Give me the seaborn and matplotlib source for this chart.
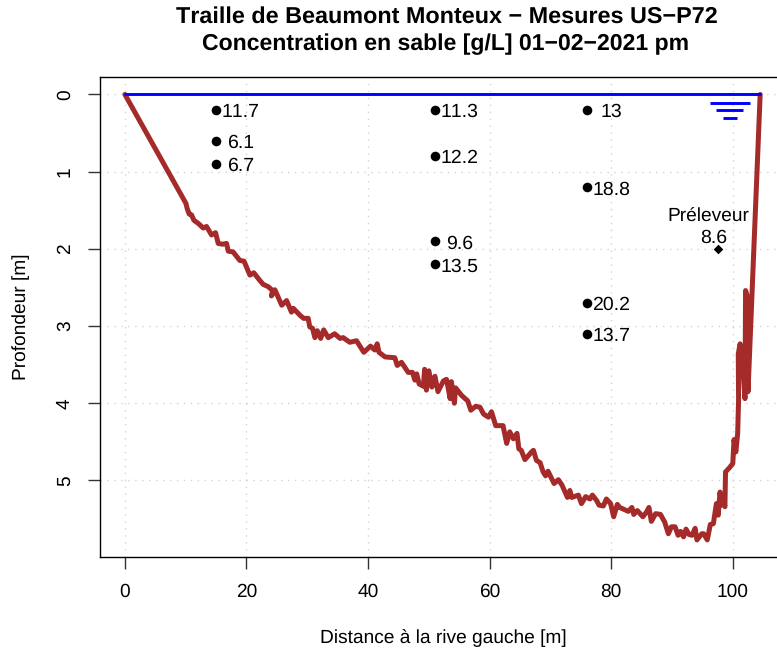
import matplotlib
matplotlib.use('Agg')
import matplotlib.pyplot as plt
import pandas as pd
import seaborn as sns

# Bed profile
bed_x = [0, 10.03, 10.25, 10.58, 10.96, 11.35, 12.06, 12.88, 13.43, 14.25, 14.91, 15.35, 16.06, 16.72, 17.0, 17.8,
         18.9, 19.6, 20.56, 21.2, 22.2, 22.75, 23.57, 24.3, 24.1, 24.67, 25.8, 26.6, 27.4, 27.7, 28.8, 29.4, 30.15,
         30.4, 30.87, 31.25, 31.64, 32.2, 32.7, 33.45, 34.5, 35.4, 35.9, 37.0, 38.1, 39.3, 40.4, 41.1, 41.5, 41.8,
         42.8, 44.4, 44.8, 45.5, 46.6, 47.3, 47.7, 48.0, 48.4, 49.1, 49.3, 49.6, 50.0, 50.5, 51.0, 51.5, 52.4, 52.9,
         53.5, 53.7, 54.2, 54.4, 55.4, 56.4, 56.9, 57.7, 58.4, 59.0, 59.8, 60.3, 61.0, 62.2, 62.8, 63.3, 63.9, 64.5,
         64.8, 65.2, 65.8, 66.9, 67.2, 67.7, 68.3, 68.8, 69.2, 69.6, 70.6, 71.3, 71.9, 72.8, 73.2, 73.5, 74.6, 75.1,
         75.8, 76.5, 76.9, 77.6, 78.0, 78.7, 79.2, 79.9, 80.4, 81.0, 81.4, 82.8, 83.4, 83.7, 84.3, 85.2, 85.8, 86.2,
         86.6, 87.3, 88.1, 88.8, 89.4, 89.9, 90.5, 91.0, 91.4, 91.9, 92.3, 92.8, 93.3, 93.8, 94.1, 94.9, 95.2, 95.8,
         96.3, 96.8, 97.3, 97.6, 97.9, 98.1, 98.3, 98.7, 98.8, 99.5, 100.0, 100.2, 100.5, 100.8, 100.95, 100.9,
         101.2, 101.5, 102.0, 102.1, 102.4, 102.5, 104.5]
bed_depth = [0, 1.41, 1.48, 1.55, 1.56, 1.63, 1.67, 1.73, 1.71, 1.82, 1.79, 1.93, 1.94, 1.93, 2.03, 2.04,
             2.15, 2.16, 2.34, 2.31, 2.41, 2.46, 2.49, 2.54, 2.61, 2.53, 2.73, 2.67, 2.82, 2.77, 2.86, 2.90, 2.90,
             3.01, 3.03, 3.15, 3.06, 3.16, 3.05, 3.15, 3.10, 3.16, 3.15, 3.21, 3.19, 3.34, 3.26, 3.31, 3.23, 3.34,
             3.40, 3.41, 3.51, 3.47, 3.60, 3.60, 3.70, 3.62, 3.75, 3.78, 3.56, 3.83, 3.58, 3.79, 3.65, 3.85, 3.71, 3.69,
             3.94, 3.72, 4.00, 3.80, 3.90, 3.97, 4.09, 4.04, 4.05, 4.14, 4.18, 4.11, 4.29, 4.29, 4.52, 4.37, 4.46, 4.39,
             4.59, 4.61, 4.73, 4.63, 4.61, 4.74, 4.77, 4.89, 4.94, 4.88, 5.04, 4.99, 5.06, 5.22, 5.13, 5.22, 5.19, 5.30,
             5.21, 5.24, 5.19, 5.26, 5.32, 5.33, 5.24, 5.30, 5.47, 5.31, 5.35, 5.40, 5.35, 5.44, 5.39, 5.47, 5.41, 5.35,
             5.53, 5.43, 5.44, 5.54, 5.69, 5.60, 5.60, 5.71, 5.66, 5.73, 5.63, 5.70, 5.71, 5.62, 5.77, 5.69, 5.69, 5.77,
             5.57, 5.56, 5.30, 5.45, 5.15, 5.32, 5.19, 5.34, 4.89, 4.83, 4.78, 4.47, 4.63, 4.39, 3.96, 3.36,
             3.23, 3.40, 3.94, 2.54, 2.62, 3.85, 0]

# Sand samples
sample_x = [15, 15, 15, 51, 51, 51, 51, 76, 76, 76, 76]
sample_depth = [0.2, 0.6, 0.9, 0.2, 0.8, 1.9, 2.2, 0.2, 1.2, 2.7, 3.1]
sample_conc = ['11.7', '6.1', '6.7', '11.3', '12.2', '9.6', '13.5', '13', '18.8', '20.2', '13.7']

# Water surface and pump sampler
water_x = [0, 104.4]
water_depth = [0, 0]
sampler_x = [97.6]
sampler_depth = [2.0]

x_ticks = [0, 20, 40, 60, 80, 100]
y_ticks = [0, 1, 2, 3, 4, 5]

sns.set_theme(style='ticks')
plt.rcParams['font.family'] = ['Liberation Sans', 'DejaVu Sans']
plt.rcParams['text.kerning_factor'] = 6
plt.rcParams['text.hinting'] = 'no_hinting'

W, H = 777, 654
fig = plt.figure(figsize=(W / 100, H / 100), dpi=100)
# the plot box runs past the right edge of the image, as in the reference
ax = fig.add_axes([99.5 / W, 1 - 556.5 / H, (786 - 99.5) / W, (556.5 - 76.7) / H])

bed = pd.DataFrame({'x': bed_x, 'depth': bed_depth})
samples = pd.DataFrame({'x': sample_x, 'depth': sample_depth})
water = pd.DataFrame({'x': water_x, 'depth': water_depth})
sampler = pd.DataFrame({'x': sampler_x, 'depth': sampler_depth})

ax.grid(True, color='#d3d3d3', linestyle=(0, (1, 4)), linewidth=1)
ax.set_axisbelow(True)

sns.lineplot(data=bed, x='x', y='depth', sort=False, estimator=None, color='#a52a2a', linewidth=3.6,
             solid_joinstyle='round', ax=ax)
sns.lineplot(data=water, x='x', y='depth', sort=False, estimator=None, color='#0000ff', linewidth=2.1, ax=ax)
sns.scatterplot(data=samples, x='x', y='depth', color='black', s=48, linewidth=0, ax=ax)
sns.scatterplot(data=sampler, x='x', y='depth', color='black', marker='D', s=24, linewidth=0, ax=ax)

for x, d, c in zip(sample_x, sample_depth, sample_conc):
    ax.text(x + 4, d + 0.03, c, ha='center', va='center', fontsize=14, color='black')

ax.text(96, 1.58, 'Préleveur', ha='center', va='center', fontsize=13.8, color='black')
ax.text(96.8, 1.86, '8.6', ha='center', va='center', fontsize=14, color='black')

# water level symbol
ax.hlines([0.106, 0.205, 0.305], [96.3, 97.3, 98.4], [102.8, 101.7, 100.7], color='#0000ff', linewidth=2.1)

ax.set_xlim(-4.18, 108.75)
ax.set_ylim(5.985, -0.23)
ax.set_xticks(x_ticks)
ax.set_yticks(y_ticks)
ax.set_xlabel('')
ax.set_ylabel('')
ax.tick_params(axis='x', length=8.5, width=1, color='#333333', labelsize=13.8, labelcolor='black', pad=10.5)
ax.tick_params(axis='y', length=8.5, width=1, color='#333333', labelsize=13.8, labelcolor='black', pad=10)
for label in ax.get_yticklabels():
    label.set_rotation(90)
    label.set_va('center')
for spine in ax.spines.values():
    spine.set_visible(True)
    spine.set_color('black')
    spine.set_linewidth(1)

fig.text(447 / W, 1 - 17 / H, 'Traille de Beaumont Monteux − Mesures US−P72', ha='center', va='center',
         fontsize=16.8, fontweight='bold', color='black')
fig.text(446 / W, 1 - 44.5 / H, 'Concentration en sable [g/L] 01−02−2021 pm', ha='center', va='center',
         fontsize=16.6, fontweight='bold', color='black')
fig.text(443 / W, 1 - 638 / H, 'Distance à la rive gauche [m]', ha='center', va='center', fontsize=13.8, color='black')
fig.text(21 / W, 1 - 317 / H, 'Profondeur [m]', ha='center', va='center', rotation=90, fontsize=13.8, color='black')

fig.savefig('out.png', dpi=100)
